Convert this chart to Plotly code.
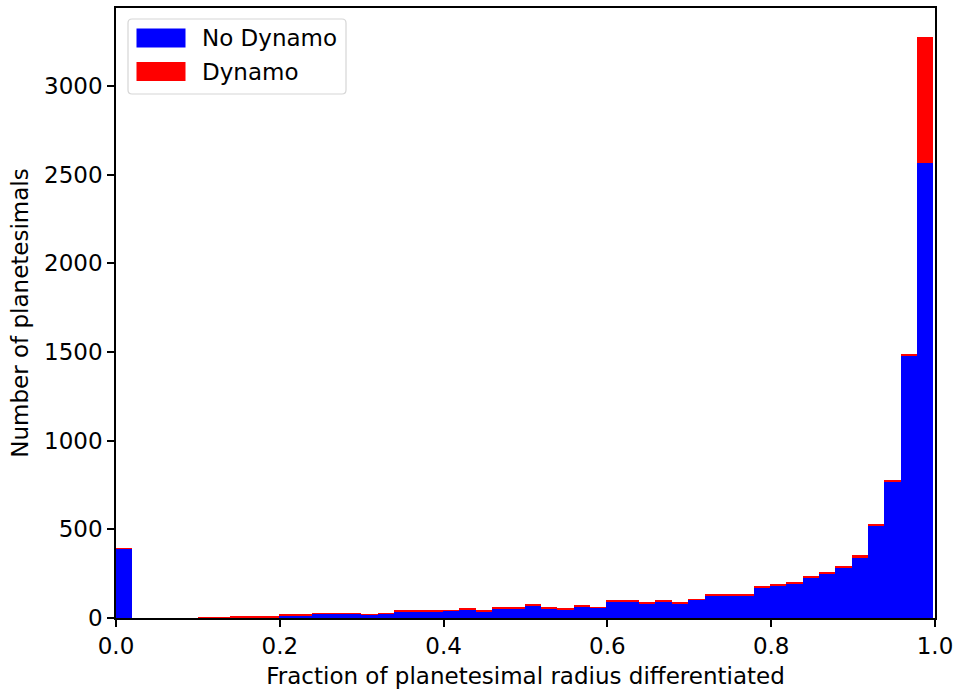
import numpy as np
import plotly.graph_objects as go

# ---- data ----
bin_edges = np.linspace(0.0, 0.998, 51)
no_dynamo = [390, 0, 0, 0, 0, 1, 1, 4, 4, 5,
             14, 14, 25, 25, 25, 18, 24, 35, 39, 35,
             40, 46, 37, 51, 51, 71, 56, 48, 67, 57,
             92, 92, 83, 93, 84, 102, 125, 129, 125, 170,
             182, 196, 227, 253, 284, 343, 521, 772, 1480, 2568]
dynamo = [2, 0, 0, 0, 0, 2, 2, 5, 5, 5,
          3, 3, 3, 3, 3, 4, 4, 5, 6, 5,
          5, 5, 6, 6, 6, 8, 6, 7, 7, 5,
          8, 8, 7, 7, 6, 5, 5, 7, 5, 5,
          5, 8, 5, 7, 5, 10, 5, 5, 11, 710]
x_ticks = [0.0, 0.2, 0.4, 0.6, 0.8, 1.0]
x_tick_labels = ["0.0", "0.2", "0.4", "0.6", "0.8", "1.0"]
y_ticks = [0, 500, 1000, 1500, 2000, 2500, 3000]
series_names = ["No Dynamo", "Dynamo"]
series_colors = ["#0000ff", "#ff0000"]

centers = (bin_edges[:-1] + bin_edges[1:]) / 2
widths = np.diff(bin_edges)

FONT = "DejaVu Sans"
FS = 23

fig = go.Figure()
for name, vals, col in zip(series_names, [no_dynamo, dynamo], series_colors):
    fig.add_trace(go.Bar(x=centers, y=vals, width=widths, name=name,
                         marker=dict(color=col, line=dict(width=0)),
                         showlegend=False))

# layout geometry (pixels)
W, H = 958, 693
L, R, T, B = 116, 23, 8, 75
pw, ph = W - L - R, H - T - B

def px(xp):
    return (xp - L) / pw

def py(yp):
    return (H - B - yp) / ph

def rounded_rect(x0, y0, x1, y1, r):
    rx, ry = r / pw, r / ph
    X0, X1 = px(x0), px(x1)
    Y0, Y1 = py(y0), py(y1)
    return (f"M {X0+rx},{Y0} L {X1-rx},{Y0} Q {X1},{Y0} {X1},{Y0-ry} "
            f"L {X1},{Y1+ry} Q {X1},{Y1} {X1-rx},{Y1} "
            f"L {X0+rx},{Y1} Q {X0},{Y1} {X0},{Y1+ry} "
            f"L {X0},{Y0-ry} Q {X0},{Y0} {X0+rx},{Y0} Z")

shapes = [
    dict(type="path", xref="paper", yref="paper",
         path=rounded_rect(128, 19, 346, 94, 4),
         line=dict(color="#d6d6d6", width=1.2), fillcolor="white", layer="above"),
    dict(type="rect", xref="paper", yref="paper",
         x0=px(136.5), x1=px(185.5), y0=py(28.5), y1=py(47.5),
         line=dict(width=0), fillcolor=series_colors[0], layer="above"),
    dict(type="rect", xref="paper", yref="paper",
         x0=px(136.5), x1=px(185.5), y0=py(62), y1=py(81),
         line=dict(width=0), fillcolor=series_colors[1], layer="above"),
]
annotations = [
    dict(text=series_names[0], xref="paper", yref="paper", x=px(200), y=py(38),
         xanchor="left", yanchor="middle", showarrow=False,
         font=dict(family=FONT, size=FS, color="black")),
    dict(text=series_names[1], xref="paper", yref="paper", x=px(200), y=py(72),
         xanchor="left", yanchor="middle", showarrow=False,
         font=dict(family=FONT, size=FS, color="black")),
]

axis_common = dict(showline=True, mirror=True, linecolor="black", linewidth=1.6,
                   ticks="outside", ticklen=7, tickwidth=1.6, tickcolor="black",
                   showgrid=False, zeroline=False,
                   tickfont=dict(family=FONT, size=FS, color="black"))

fig.update_layout(
    width=W, height=H,
    margin=dict(l=L, r=R, t=T, b=B, autoexpand=False),
    paper_bgcolor="white", plot_bgcolor="white",
    barmode="stack", bargap=0,
    font=dict(family=FONT, size=FS, color="black"),
    xaxis=dict(range=[0, 1], tickvals=x_ticks, ticktext=x_tick_labels,
               title=dict(text="Fraction of planetesimal radius differentiated",
                          font=dict(family=FONT, size=FS, color="black"), standoff=9),
               **axis_common),
    yaxis=dict(range=[0, 3440], tickvals=y_ticks,
               title=dict(text="Number of planetesimals",
                          font=dict(family=FONT, size=FS, color="black"), standoff=9),
               **axis_common),
    shapes=shapes, annotations=annotations,
    showlegend=False,
)

fig.write_html("out.html")
